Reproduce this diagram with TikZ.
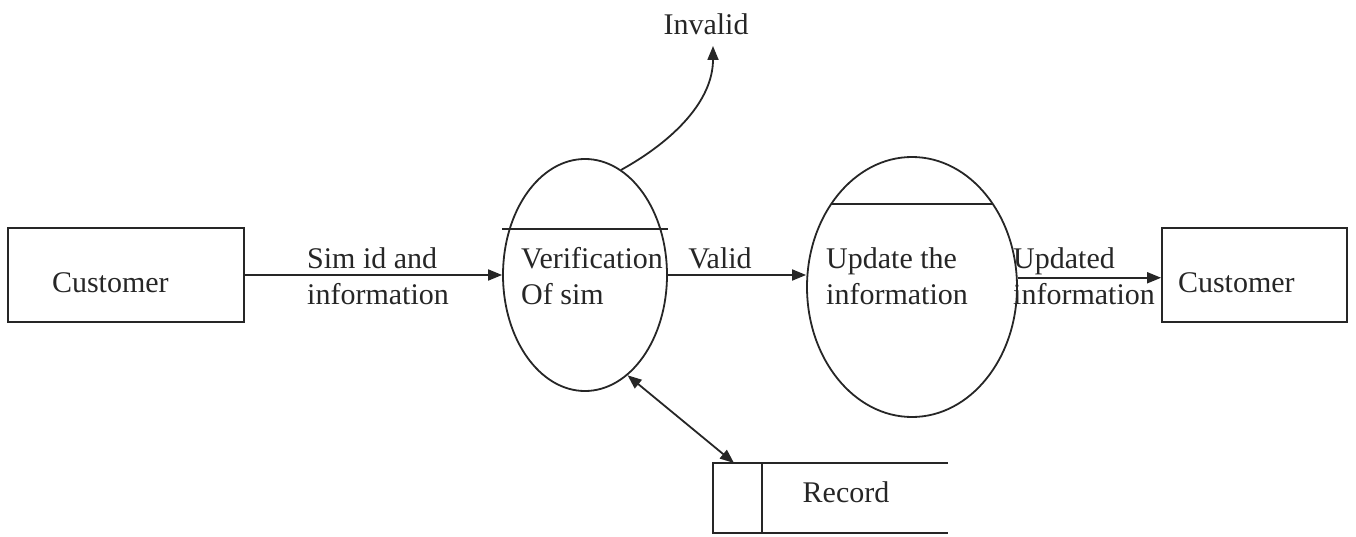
\documentclass[tikz,border=0pt]{standalone}
\usepackage{fontspec}
\setmainfont{Liberation Serif}
\usetikzlibrary{shapes.geometric,arrows.meta,calc}
\begin{document}
\begin{tikzpicture}[x=1pt,y=-1pt,
  txt/.style={font=\fontsize{30}{36}\selectfont, inner sep=0pt, text=black!85},
  line/.style={draw=black!85, line width=1.8pt},
  entity/.style={line, rectangle, minimum height=94pt, align=left,
    text height=34pt, text depth=0pt,
    font=\fontsize{30}{36}\selectfont, text=black!85},
  process/.style={line, ellipse, inner sep=0pt},
  flow/.style={line, -{Triangle[length=14pt,width=11pt]}},
  dflow/.style={line, {Triangle[length=14pt,width=11pt]}-{Triangle[length=14pt,width=11pt]}}]
\useasboundingbox (0,0) rectangle (1356,537);

% external entities
\node[entity, inner xsep=44pt, text width=148pt] (c1) at (126,275) {Customer};
\node[entity, inner xsep=16pt, text width=153pt] (c2) at (1254.5,275) {Customer};

% processes
\node[process, minimum width=164pt, minimum height=232pt] (e1) at (585,275) {};
\node[process, minimum width=210pt, minimum height=260pt] (e2) at (912,287) {};
\draw[line] ($(e1.center)+(-83,-46)$) -- ($(e1.center)+(83,-46)$);
\draw[line] ($(e2.center)+(-80.8,-83)$) -- ($(e2.center)+(80.8,-83)$);
\node[txt, anchor=west, align=left] (t1) at (521,276) {Verification\\Of sim};
\node[txt, anchor=west, align=left] (t2) at (826,276) {Update the\\information};

% data store
\coordinate (rtl) at (713,463);
\coordinate (rbl) at (713,533);
\coordinate (rtr) at (948,463);
\coordinate (rbr) at (948,533);
\draw[line] (rtr) -- (rtl) -- (rbl) -- (rbr);
\draw[line] (762,463) -- (762,533);
\node[txt] (rec) at (846,492) {Record};
\coordinate (rtop) at (734,463);

% flows
\draw[flow] (c1.east) -- (e1.west);
\node[txt, anchor=west, align=left] (l1) at (307,276) {Sim id and\\information};

\draw[flow] (e1.east) -- (e1.east -| e2.west);
\node[txt] (l2) at (720,258) {Valid};

\draw[flow] (e2.5) -- (e2.5 -| c2.west);
\node[txt, anchor=west, align=left] (l3) at (1013,276) {Updated\\information};

\node[txt] (inv) at (706,24) {Invalid};
\coordinate (invtip) at (713,46);
\draw[flow] (e1.71) .. controls (675,140) and (713,100) .. (invtip);

\draw[dflow] (e1.-67) -- (rtop);
\end{tikzpicture}
\end{document}
